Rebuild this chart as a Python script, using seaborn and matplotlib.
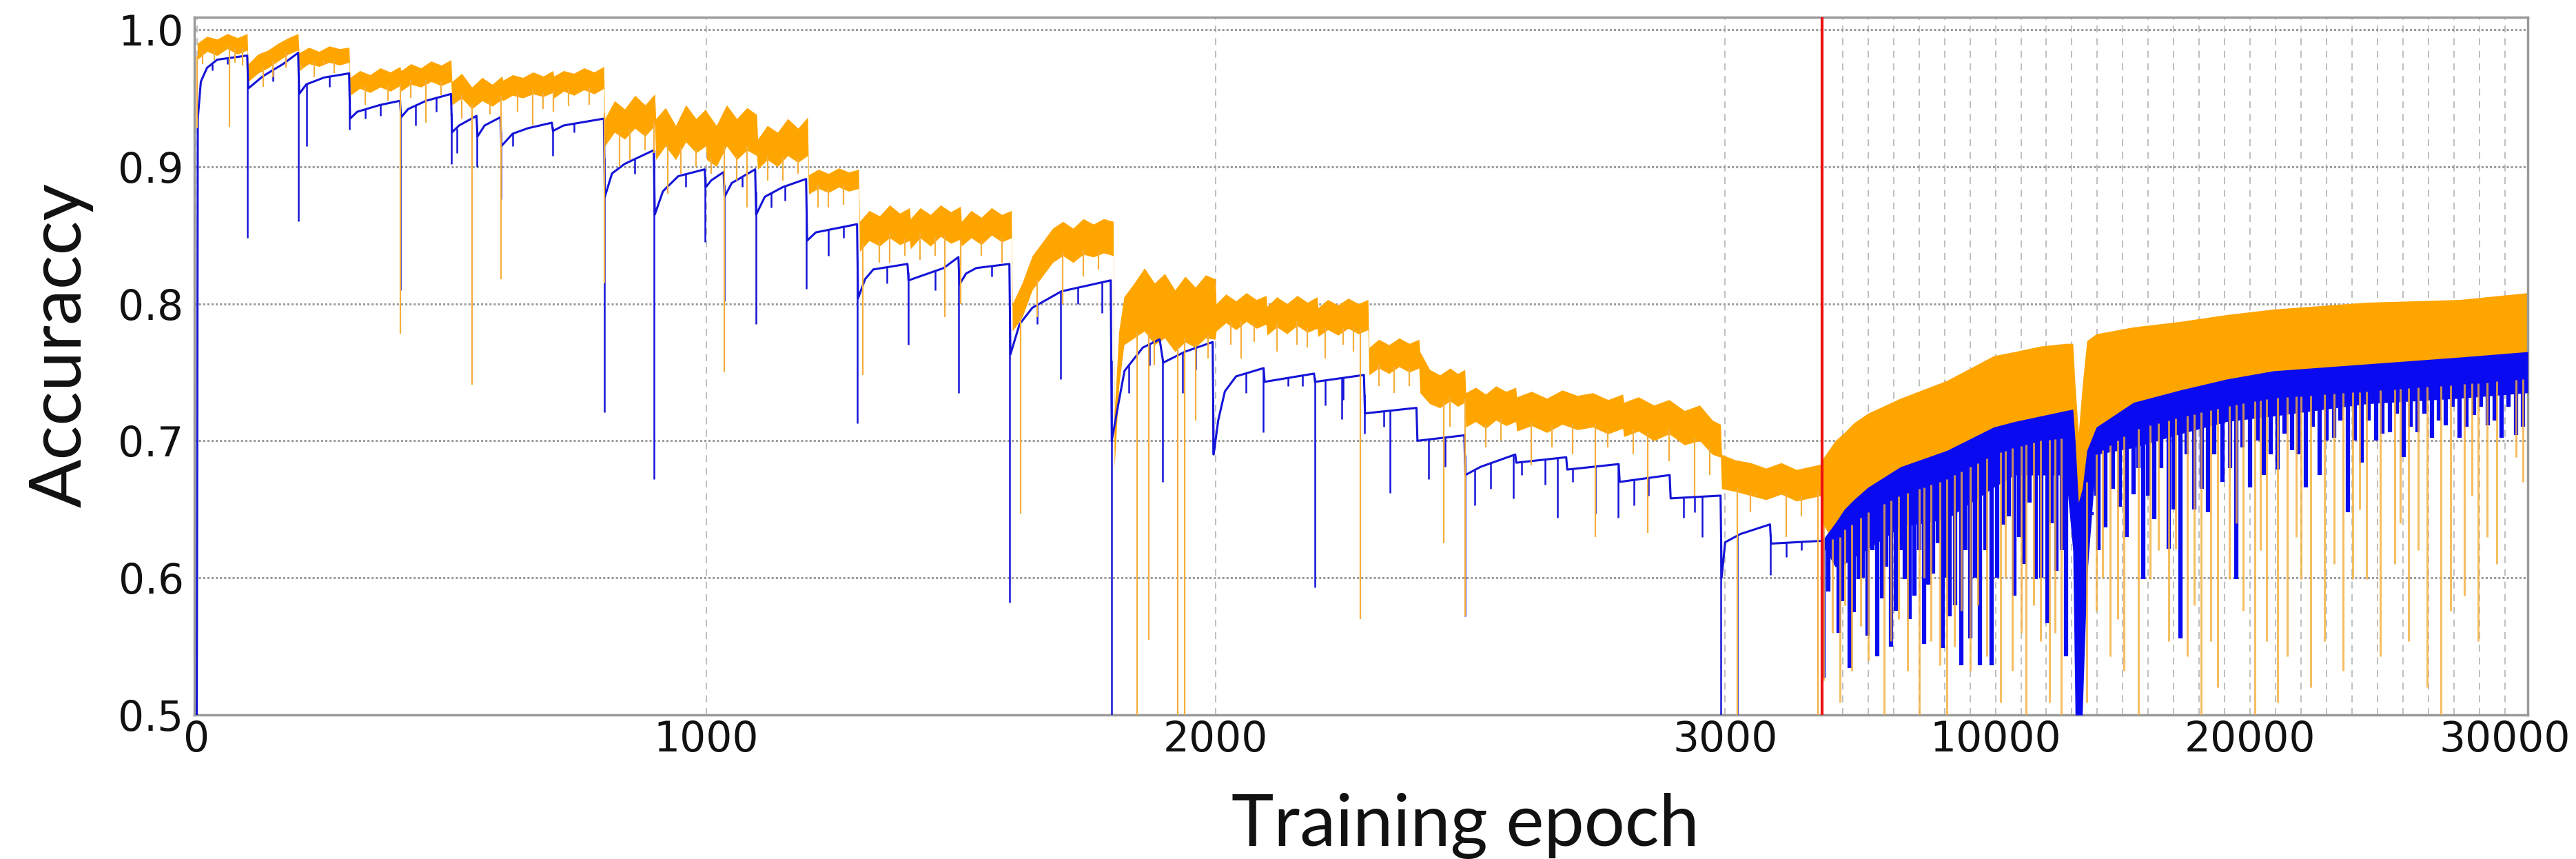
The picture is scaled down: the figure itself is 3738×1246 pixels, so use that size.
import numpy as np
import pandas as pd
import matplotlib
matplotlib.use("Agg")
import matplotlib.pyplot as plt
import seaborn as sns

# ---------------------------------------------------------------------------
# Axis layout: full resolution up to SWITCH_EPOCH, then compressed 1:COMPRESS
# ---------------------------------------------------------------------------
SWITCH_EPOCH = 3190
COMPRESS = 20

x_ticks = [0, 1000, 2000, 3000, 10000, 20000, 30000]
y_ticks = [0.5, 0.6, 0.7, 0.8, 0.9, 1.0]

# ---------------------------------------------------------------------------
# Phase 1 (incremental tasks): blue curve
# ---------------------------------------------------------------------------
blue_epoch = [0, 2, 8, 20, 40, 99, 101, 130, 170, 199, 201, 215, 250, 299,
              301, 315, 360, 399, 401, 415, 450, 499, 501, 515, 549, 551, 565,
              596, 598, 620, 650, 697, 699, 720, 799, 801, 815, 840, 897, 899,
              915, 945, 997, 999, 1010, 1034, 1036, 1050, 1096, 1098, 1115,
              1150, 1196, 1198, 1215, 1296, 1298, 1312, 1328, 1395, 1397, 1420,
              1466, 1495, 1497, 1510, 1530, 1595, 1597, 1615, 1640, 1697, 1794,
              1796, 1808, 1821, 1857, 1890, 1897, 1940, 1994, 1996, 2005, 2018,
              2040, 2094, 2096, 2193, 2195, 2291, 2293, 2394, 2396, 2488, 2490,
              2520, 2588, 2590, 2688, 2690, 2791, 2793, 2891, 2893, 2991, 2993,
              3000, 3030, 3088, 3090, 3189]
blue_acc = [0.500, 0.935, 0.962, 0.972, 0.978, 0.981, 0.957, 0.966, 0.975,
            0.983, 0.953, 0.960, 0.965, 0.968, 0.935, 0.940, 0.945, 0.948,
            0.936, 0.942, 0.948, 0.953, 0.925, 0.930, 0.937, 0.922, 0.930,
            0.936, 0.915, 0.924, 0.928, 0.932, 0.926, 0.930, 0.935, 0.878,
            0.895, 0.902, 0.912, 0.865, 0.882, 0.893, 0.898, 0.885, 0.890,
            0.896, 0.878, 0.888, 0.898, 0.865, 0.878, 0.885, 0.891, 0.846,
            0.852, 0.858, 0.804, 0.818, 0.825, 0.829, 0.817, 0.820, 0.826,
            0.834, 0.814, 0.822, 0.826, 0.829, 0.763, 0.785, 0.797, 0.809,
            0.817, 0.700, 0.725, 0.751, 0.768, 0.774, 0.757, 0.765, 0.772,
            0.690, 0.715, 0.736, 0.747, 0.753, 0.743, 0.749, 0.743, 0.748,
            0.720, 0.724, 0.700, 0.704, 0.675, 0.681, 0.690, 0.684, 0.688,
            0.679, 0.683, 0.670, 0.675, 0.658, 0.660, 0.600, 0.626, 0.632,
            0.639, 0.625, 0.627]

blue_dip_epoch = [30, 60, 100, 150, 200, 216, 260, 300, 330, 360, 400, 430,
                  470, 500, 510, 550, 597, 620, 698, 740, 800, 860, 897, 960,
                  998, 1035, 1070, 1097, 1128, 1154, 1197, 1240, 1270, 1297,
                  1354, 1396, 1450, 1496, 1560, 1596, 1650, 1696, 1730, 1777,
                  1795, 1830, 1870, 1896, 1935, 1961, 1995, 2060, 2093, 2142,
                  2170, 2194, 2215, 2248, 2250, 2292, 2330, 2342, 2418, 2450,
                  2489, 2508, 2540, 2584, 2600, 2647, 2671, 2700, 2745, 2790,
                  2821, 2850, 2918, 2940, 2955, 2992, 3024, 3089, 3120, 3150]
blue_dip_low = [0.970, 0.975, 0.848, 0.962, 0.860, 0.915, 0.958, 0.927, 0.935,
                0.937, 0.810, 0.930, 0.940, 0.902, 0.910, 0.900, 0.876, 0.915,
                0.908, 0.925, 0.721, 0.895, 0.672, 0.885, 0.845, 0.802, 0.885,
                0.785, 0.870, 0.875, 0.811, 0.835, 0.848, 0.713, 0.815, 0.770,
                0.810, 0.735, 0.820, 0.582, 0.785, 0.745, 0.800, 0.793, 0.500,
                0.735, 0.755, 0.670, 0.735, 0.752, 0.690, 0.735, 0.706, 0.740,
                0.740, 0.593, 0.726, 0.716, 0.730, 0.705, 0.710, 0.662, 0.672,
                0.681, 0.572, 0.653, 0.665, 0.658, 0.675, 0.668, 0.644, 0.670,
                0.647, 0.644, 0.653, 0.660, 0.644, 0.648, 0.630, 0.500, 0.500,
                0.602, 0.615, 0.620]

# ---------------------------------------------------------------------------
# Phase 1: orange curve (noisy band, low / high envelope)
# ---------------------------------------------------------------------------
orange_epoch = [
    1, 20, 40, 60, 80, 99,
    101, 120, 140, 160, 180, 199,
    201, 220, 240, 260, 280, 299,
    301, 320, 340, 360, 380, 399,
    401, 420, 440, 460, 480, 499,
    501, 520, 540, 560, 580, 599,
    601, 620, 640, 660, 680, 699,
    701, 720, 740, 760, 780, 799,
    801, 820, 840, 860, 880, 899,
    901, 920, 940, 960, 980, 999,
    1001, 1020, 1040, 1060, 1080, 1099,
    1101, 1120, 1140, 1160, 1180, 1199,
    1201, 1220, 1240, 1260, 1280, 1299,
    1301, 1320, 1340, 1360, 1380, 1399,
    1401, 1420, 1440, 1460, 1480, 1499,
    1501, 1520, 1540, 1560, 1580, 1599,
    1601, 1620, 1640, 1660, 1680, 1700, 1720, 1740, 1760, 1780, 1799,
    1801, 1810, 1820, 1840, 1860, 1880, 1900, 1920, 1940, 1960, 1980, 1999,
    2001, 2020, 2040, 2060, 2080, 2099,
    2101, 2120, 2140, 2160, 2180, 2199,
    2201, 2220, 2240, 2260, 2280, 2299,
    2301, 2320, 2340, 2360, 2380, 2399,
    2401, 2420, 2440, 2460, 2475, 2489,
    2491, 2510, 2530, 2550, 2570, 2589,
    2591, 2620, 2650, 2680, 2710, 2740, 2770, 2799,
    2801, 2830, 2860, 2890, 2920, 2950, 2975, 2991,
    2993, 3020, 3050, 3080, 3110, 3140, 3189]
orange_high = [
    0.990, 0.995, 0.993, 0.997, 0.994, 0.997,
    0.975, 0.982, 0.985, 0.990, 0.994, 0.997,
    0.983, 0.987, 0.984, 0.988, 0.986, 0.987,
    0.965, 0.970, 0.967, 0.972, 0.969, 0.973,
    0.970, 0.975, 0.972, 0.977, 0.974, 0.978,
    0.962, 0.968, 0.958, 0.965, 0.960, 0.966,
    0.963, 0.967, 0.965, 0.969, 0.966, 0.970,
    0.966, 0.970, 0.968, 0.972, 0.969, 0.973,
    0.935, 0.948, 0.942, 0.952, 0.945, 0.953,
    0.935, 0.943, 0.930, 0.945, 0.935, 0.942,
    0.940, 0.930, 0.945, 0.935, 0.943, 0.938,
    0.920, 0.930, 0.925, 0.935, 0.928, 0.936,
    0.894, 0.898, 0.895, 0.899, 0.896, 0.898,
    0.860, 0.868, 0.864, 0.872, 0.866, 0.870,
    0.862, 0.870, 0.865, 0.872, 0.867, 0.871,
    0.860, 0.868, 0.863, 0.870, 0.865, 0.868,
    0.800, 0.815, 0.835, 0.845, 0.855, 0.860, 0.855, 0.862, 0.858, 0.862, 0.860,
    0.720, 0.780, 0.805, 0.815, 0.826, 0.815, 0.822, 0.810, 0.820, 0.812, 0.821, 0.818,
    0.800, 0.807, 0.802, 0.808, 0.803, 0.806,
    0.798, 0.805, 0.800, 0.806, 0.801, 0.805,
    0.797, 0.803, 0.799, 0.804, 0.800, 0.803,
    0.768, 0.774, 0.770, 0.775, 0.771, 0.774,
    0.765, 0.752, 0.748, 0.753, 0.749, 0.752,
    0.735, 0.739, 0.734, 0.740, 0.736, 0.739,
    0.732, 0.736, 0.731, 0.737, 0.733, 0.735, 0.730, 0.734,
    0.728, 0.732, 0.726, 0.730, 0.722, 0.726, 0.715, 0.712,
    0.690, 0.686, 0.684, 0.680, 0.684, 0.679, 0.683]
orange_low = [
    0.978, 0.984, 0.981, 0.986, 0.982, 0.985,
    0.962, 0.968, 0.972, 0.977, 0.982, 0.985,
    0.970, 0.975, 0.973, 0.976, 0.974, 0.976,
    0.952, 0.957, 0.954, 0.958, 0.955, 0.959,
    0.955, 0.960, 0.958, 0.962, 0.959, 0.962,
    0.945, 0.950, 0.942, 0.948, 0.944, 0.949,
    0.948, 0.952, 0.950, 0.953, 0.951, 0.954,
    0.950, 0.955, 0.952, 0.956, 0.953, 0.957,
    0.915, 0.925, 0.920, 0.928, 0.922, 0.930,
    0.905, 0.915, 0.905, 0.918, 0.910, 0.915,
    0.905, 0.900, 0.915, 0.905, 0.912, 0.908,
    0.898, 0.905, 0.900, 0.908, 0.903, 0.908,
    0.880, 0.884, 0.881, 0.885, 0.882, 0.884,
    0.838, 0.846, 0.842, 0.848, 0.843, 0.846,
    0.840, 0.848, 0.842, 0.849, 0.844, 0.847,
    0.842, 0.848, 0.843, 0.850, 0.845, 0.848,
    0.780, 0.790, 0.810, 0.820, 0.830, 0.835, 0.830, 0.836, 0.834, 0.837, 0.835,
    0.680, 0.740, 0.770, 0.775, 0.780, 0.770, 0.775, 0.765, 0.772, 0.768, 0.775, 0.774,
    0.780, 0.786, 0.781, 0.787, 0.782, 0.785,
    0.777, 0.783, 0.778, 0.784, 0.779, 0.782,
    0.776, 0.781, 0.777, 0.782, 0.778, 0.781,
    0.748, 0.753, 0.749, 0.754, 0.750, 0.753,
    0.735, 0.727, 0.724, 0.729, 0.725, 0.728,
    0.710, 0.714, 0.709, 0.715, 0.711, 0.714,
    0.707, 0.711, 0.706, 0.712, 0.708, 0.710, 0.705, 0.709,
    0.703, 0.707, 0.700, 0.705, 0.697, 0.700, 0.690, 0.688,
    0.665, 0.663, 0.660, 0.657, 0.661, 0.656, 0.660]

orange_dip_epoch = [0, 12, 35, 64, 75, 90, 130, 150, 175, 205, 230, 250, 270,
                    330, 375, 400, 420, 450, 480, 520, 540, 575, 597, 630, 660,
                    680, 700, 730, 770, 800, 830, 850, 880, 898, 925, 950, 980,
                    1010, 1036, 1060, 1080, 1120, 1150, 1180, 1220, 1240, 1270,
                    1307, 1340, 1360, 1390, 1420, 1450, 1468, 1500, 1540, 1580,
                    1617, 1650, 1700, 1740, 1770, 1845, 1869, 1880, 1925, 1939,
                    1960, 1985, 2030, 2050, 2075, 2120, 2160, 2180, 2215, 2250,
                    2270, 2284, 2320, 2350, 2380, 2447, 2460, 2489, 2530, 2560,
                    2619, 2660, 2700, 2745, 2770, 2820, 2848, 2890, 2940, 2970,
                    3024, 3050, 3060, 3120, 3150, 3182]
orange_dip_low = [0.928, 0.975, 0.978, 0.929, 0.976, 0.974, 0.958, 0.965, 0.972,
                  0.970, 0.965, 0.975, 0.968, 0.945, 0.948, 0.778, 0.950, 0.932,
                  0.952, 0.935, 0.741, 0.938, 0.818, 0.940, 0.930, 0.942, 0.940,
                  0.944, 0.945, 0.815, 0.900, 0.905, 0.912, 0.910, 0.880, 0.895,
                  0.900, 0.895, 0.750, 0.890, 0.870, 0.890, 0.890, 0.895, 0.870,
                  0.870, 0.872, 0.748, 0.830, 0.830, 0.835, 0.832, 0.835, 0.790,
                  0.800, 0.835, 0.830, 0.647, 0.790, 0.800, 0.820, 0.825, 0.500,
                  0.555, 0.755, 0.500, 0.500, 0.715, 0.760, 0.770, 0.760, 0.772,
                  0.765, 0.770, 0.768, 0.760, 0.770, 0.765, 0.570, 0.740, 0.735,
                  0.740, 0.625, 0.710, 0.572, 0.695, 0.700, 0.682, 0.695, 0.690,
                  0.630, 0.695, 0.690, 0.633, 0.685, 0.660, 0.675, 0.500, 0.648,
                  0.660, 0.630, 0.645, 0.500]

# ---------------------------------------------------------------------------
# Phase 2 (joint training after the switch): dense bands
# ---------------------------------------------------------------------------
late_epoch = [3190, 3710, 4070, 4440, 4990, 6270, 8100, 9930, 10750, 11760,
              12770, 13040, 13130, 13260, 13410, 13590, 13960, 15420, 17250,
              19080, 20910, 24570, 28230, 30900]
late_blue_high = [0.627, 0.640, 0.650, 0.657, 0.666, 0.681, 0.693, 0.710,
                  0.714, 0.718, 0.722, 0.723, 0.700, 0.655, 0.665, 0.693,
                  0.710, 0.728, 0.737, 0.745, 0.751, 0.756, 0.761, 0.765]
late_blue_low = [0.625, 0.608, 0.610, 0.615, 0.621, 0.637, 0.643, 0.666,
                 0.675, 0.675, 0.675, 0.620, 0.500, 0.500, 0.500, 0.600,
                 0.690, 0.695, 0.705, 0.714, 0.718, 0.727, 0.731, 0.735]
late_orange_high = [0.686, 0.700, 0.706, 0.713, 0.720, 0.731, 0.744, 0.762,
                    0.765, 0.769, 0.771, 0.771, 0.740, 0.706, 0.740, 0.773,
                    0.778, 0.783, 0.787, 0.792, 0.796, 0.801, 0.803, 0.808]
late_orange_low = [0.640, 0.625, 0.635, 0.640, 0.648, 0.660, 0.672, 0.690,
                   0.695, 0.700, 0.702, 0.700, 0.650, 0.600, 0.620, 0.670,
                   0.690, 0.708, 0.717, 0.725, 0.731, 0.736, 0.741, 0.745]

late_blue_dip_epoch = [
    3250, 3450, 3710, 3850, 3980, 4130, 4290, 4450, 4620, 4800, 4990, 5170,
    5360, 5540, 5720, 5900, 6090, 6270, 6450, 6640, 6820, 7000, 7190, 7370,
    7550, 7740, 7920, 8050, 8190, 8420, 8650, 8830, 9020, 9200, 9380, 9610,
    9840, 10070, 10300, 10520, 10750, 10930, 11120, 11350, 11580, 11800,
    12030, 12200, 12400, 12600, 12770, 13770, 13950, 14050, 14320, 14600,
    14870, 15150, 15420, 15600, 15790, 16000, 16240, 16500, 16790, 17000,
    17250, 17500, 17800, 18100, 18350, 18600, 18900, 19200, 19450, 19700,
    20000, 20300, 20540, 20800, 21090, 21350, 21640, 21900, 22190, 22450,
    22740, 23000, 23290, 23550, 23840, 24100, 24390, 24650, 24940, 25200,
    25490, 25750, 26030, 26300, 26580, 26850, 27130, 27400, 27680, 27950,
    28230, 28500, 28780, 29050, 29330, 29600, 29880, 30150, 30430, 30700]
late_blue_dip_low = [
    0.527, 0.590, 0.617, 0.560, 0.583, 0.620, 0.534, 0.575, 0.599, 0.600,
    0.558, 0.620, 0.543, 0.585, 0.608, 0.550, 0.576, 0.620, 0.599, 0.570,
    0.587, 0.620, 0.552, 0.595, 0.603, 0.625, 0.549, 0.600, 0.572, 0.580,
    0.536, 0.620, 0.556, 0.600, 0.536, 0.620, 0.536, 0.600, 0.639, 0.645,
    0.587, 0.630, 0.610, 0.655, 0.599, 0.600, 0.567, 0.640, 0.605, 0.620,
    0.543, 0.646, 0.660, 0.620, 0.637, 0.665, 0.652, 0.630, 0.661, 0.680,
    0.599, 0.660, 0.643, 0.680, 0.621, 0.650, 0.556, 0.690, 0.650, 0.665,
    0.648, 0.690, 0.670, 0.680, 0.599, 0.695, 0.666, 0.700, 0.675, 0.690,
    0.679, 0.705, 0.693, 0.690, 0.666, 0.710, 0.675, 0.700, 0.702, 0.715,
    0.648, 0.700, 0.684, 0.715, 0.700, 0.705, 0.706, 0.720, 0.688, 0.710,
    0.706, 0.720, 0.702, 0.715, 0.711, 0.725, 0.702, 0.710, 0.719, 0.725,
    0.711, 0.715, 0.702, 0.725, 0.704, 0.710]

late_orange_dip_epoch = [
    3250, 3600, 3890, 4100, 4350, 4710, 5000, 5630, 5900, 6200, 6540, 7000,
    7200, 7460, 7830, 8100, 8400, 8650, 9020, 9300, 9660, 10200, 10400,
    10660, 11000, 11210, 11500, 11760, 12130, 12350, 12580, 13590, 13960,
    14200, 14510, 14800, 15050, 15600, 16060, 16400, 16790, 17070, 17530,
    17800, 18070, 18440, 18710, 19170, 19450, 19720, 20180, 20400, 20640,
    21090, 21460, 21800, 22010, 22370, 22920, 23300, 23650, 24020, 24300,
    24570, 25120, 25670, 25900, 26220, 26600, 26950, 27500, 27860, 28410,
    28700, 28960, 29300, 29690, 30430, 30700]
late_orange_dip_low = [
    0.525, 0.560, 0.509, 0.580, 0.532, 0.565, 0.540, 0.500, 0.554, 0.570,
    0.532, 0.500, 0.600, 0.554, 0.536, 0.500, 0.550, 0.576, 0.532, 0.580,
    0.543, 0.509, 0.600, 0.532, 0.560, 0.500, 0.580, 0.554, 0.509, 0.560,
    0.500, 0.509, 0.576, 0.600, 0.543, 0.570, 0.532, 0.500, 0.599, 0.620,
    0.554, 0.621, 0.543, 0.580, 0.500, 0.554, 0.520, 0.599, 0.640, 0.576,
    0.500, 0.620, 0.554, 0.509, 0.543, 0.630, 0.599, 0.520, 0.554, 0.610,
    0.532, 0.599, 0.650, 0.599, 0.543, 0.610, 0.640, 0.554, 0.620, 0.520,
    0.500, 0.576, 0.587, 0.660, 0.554, 0.630, 0.610, 0.688, 0.670]

# ---------------------------------------------------------------------------
# Styling
# ---------------------------------------------------------------------------
sns.set_theme(style="white")
plt.rcParams["font.family"] = ["DejaVu Sans"]

BLUE = "#1414d8"
LATE_BLUE = "#0a0af0"
ORANGE = "#ffa500"
ORANGE_DIP = "#f4ae3c"


def forward(x):
    x = np.asarray(x, dtype=float)
    return np.where(x <= SWITCH_EPOCH, x, SWITCH_EPOCH + (x - SWITCH_EPOCH) / COMPRESS)


def inverse(y):
    y = np.asarray(y, dtype=float)
    return np.where(y <= SWITCH_EPOCH, y, SWITCH_EPOCH + (y - SWITCH_EPOCH) * COMPRESS)


fig = plt.figure(figsize=(37.38, 12.46), dpi=100)
ax = fig.add_axes([0.0754, 0.1677, 0.9059, 0.8123])
ax.set_xscale("function", functions=(forward, inverse))
ax.set_xlim(-5, 30900)
ax.set_ylim(0.5, 1.009)

# Phase 1 orange band and its dips
ax.fill_between(orange_epoch, orange_low, orange_high, color=ORANGE, lw=0,
                zorder=2)
o_top = np.interp(orange_dip_epoch, orange_epoch, orange_low)
ax.vlines(orange_dip_epoch, orange_dip_low, o_top + 0.003, color=ORANGE_DIP,
          lw=1.6, zorder=4)

# Phase 1 blue curve and its dips
sns.lineplot(x=blue_epoch, y=blue_acc, ax=ax, color=BLUE, lw=2.2,
             estimator=None, sort=False, zorder=3)
b_top = np.interp(blue_dip_epoch, blue_epoch, blue_acc)
ax.vlines(blue_dip_epoch, blue_dip_low, b_top, color=BLUE, lw=1.8, zorder=3)

# Phase 2 dense bands
ax.fill_between(late_epoch, late_orange_low, late_orange_high, color=ORANGE,
                lw=0, zorder=2)
ax.fill_between(late_epoch, late_blue_low, late_blue_high, color=LATE_BLUE,
                lw=0, zorder=3)
lb_top = np.interp(late_blue_dip_epoch, late_epoch, late_blue_low)
ax.vlines(late_blue_dip_epoch, late_blue_dip_low, lb_top + 0.004,
          color=LATE_BLUE, lw=4.5, zorder=3)
lo_top = np.interp(late_orange_dip_epoch, late_epoch, late_orange_low)
ax.vlines(late_orange_dip_epoch, late_orange_dip_low, lo_top, color=ORANGE_DIP,
          lw=2.2, alpha=0.8, zorder=4)

# Switch marker
ax.axvline(SWITCH_EPOCH, color="#ee1111", lw=3, zorder=5)

# Grid
ax.set_xticks(x_ticks)
ax.set_xticklabels([str(t) for t in x_ticks])
minor = [e for e in range(4000, 31000, 1000) if e not in x_ticks]
ax.set_xticks(minor, minor=True)
ax.set_yticks(y_ticks)
ax.set_yticklabels([f"{t:.1f}" for t in y_ticks])
ax.grid(True, axis="x", which="both", color="#b4b4b4", lw=1.2,
        linestyle=(0, (6, 5)), zorder=0)
ax.grid(True, axis="y", which="major", color="#9c9c9c", lw=2.2,
        linestyle=(0, (1.0, 1.0)), zorder=0)
ax.set_axisbelow(True)

ax.tick_params(axis="both", which="both", length=0, labelsize=43,
               colors="#111111")
ax.tick_params(axis="x", pad=5)
ax.tick_params(axis="y", pad=11)

for side in ["left", "right", "top", "bottom"]:
    ax.spines[side].set_color("#9a9a9a")
    ax.spines[side].set_linewidth(2.5)
    ax.spines[side].set_visible(True)

ax.set_xlabel("")
ax.set_ylabel("")
fig.text(2126 / 3738, 1 - 1227 / 1246, "Training epoch", family=["Lato", "DejaVu Sans"],
         fontsize=75, ha="center", va="baseline", color="#111111")
fig.text(88 / 3738, 1 - 500 / 1246, "Accuraccy", family=["Lato", "DejaVu Sans"],
         fontsize=75, rotation=90, ha="center", va="center", color="#111111")

fig.savefig("out.png", dpi=100)
